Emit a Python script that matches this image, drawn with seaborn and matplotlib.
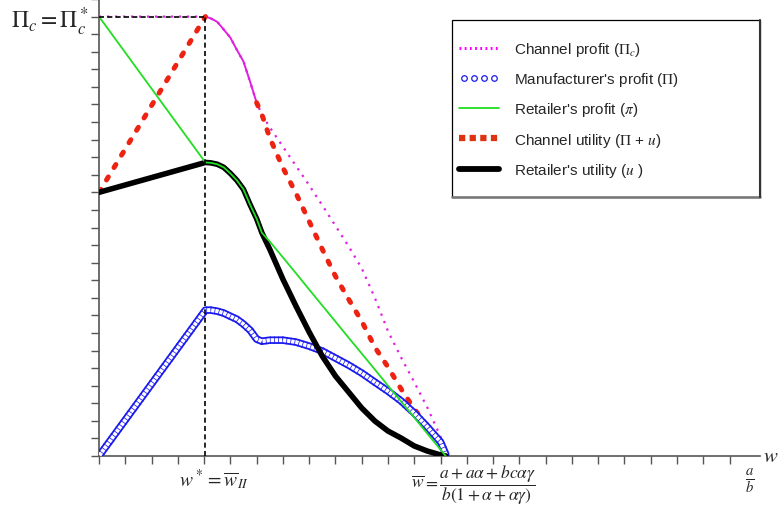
import matplotlib
matplotlib.use("Agg")
import matplotlib.pyplot as plt
import matplotlib.patheffects as pe
from matplotlib.lines import Line2D
from matplotlib.legend_handler import HandlerLine2D
from matplotlib.patches import Rectangle
import numpy as np
import pandas as pd
import seaborn as sns

# wholesale price grid (x tick units) and curve values (y tick units)
w = [0, 4.05, 4.25, 4.5, 4.75, 5, 5.25, 5.5, 5.75, 6.0, 6.2, 6.5, 7, 7.5, 8, 8.5, 9,
     9.5, 10, 10.5, 11, 11.5, 12, 12.5, 13, 13.2]
channel_profit = [25, 25, 24.9, 24.7, 24.26, 23.8, 23.1, 22.44, 21.3, 20.1, 19.43, 18.7,
                  17.6, 16.5, 15.4, 14.26, 13.1, 11.93, 10.68, 9.0, 7.1, 5.6, 4.2, 2.75,
                  1.1, 0.1]
manuf_profit = [0, 8.3, 8.3, 8.24, 8.13, 7.95, 7.78, 7.5, 7.16, 6.65, 6.53, 6.59, 6.59,
                6.48, 6.25, 5.97, 5.57, 5.17, 4.72, 4.2, 3.69, 3.13, 2.44, 1.65, 0.8, 0.1]
retailer_profit = [25, 16.7, 16.68, 16.6, 16.42, 16.08, 15.68, 15.17, 14.3, 13.5, 12.7,
                   12.2, 11.3, 10.39, 9.47, 8.56, 7.65, 6.73, 5.83, 4.92, 4.0, 3.1, 2.19,
                   1.27, 0.36, 0.0]
channel_utility = [15.0, 25, np.nan, np.nan, np.nan, np.nan, np.nan, np.nan, np.nan, 20.1,
                   19.43, 18.1, 16.4, 14.94, 13.35, 11.76, 10.23, 8.92, 7.67, 6.19, 5.06,
                   3.81, 2.67, 1.7, 0.63, 0.05]
retailer_utility = [15.0, 16.7, 16.68, 16.6, 16.42, 16.08, 15.68, 15.17, 14.3, 13.5, 12.7,
                    11.76, 10.06, 8.52, 7.05, 5.68, 4.55, 3.64, 2.73, 1.99, 1.42, 1.02,
                    0.57, 0.28, 0.06, 0.0]

w_star = 4.05
pi_star = 25

df = pd.DataFrame({"w": w, "Pc": channel_profit, "P": manuf_profit,
                   "pi": retailer_profit, "Pu": channel_utility, "u": retailer_utility})

sns.set_style("ticks")
plt.rcParams["font.family"] = ["Liberation Sans", "DejaVu Sans"]
plt.rcParams["mathtext.fontset"] = "stix"

fig = plt.figure(figsize=(7.78, 5.10), dpi=100)
ax = fig.add_axes([99 / 778, 53 / 510, 661 / 778, 457 / 510])

c_pink = "#e020e0"
c_blue = "#1a1aee"
c_green = "#22dd22"
c_red = "#ee2211"

# guide lines at w* and Pi_c*
ax.plot([0, w_star], [pi_star, pi_star], color="black", lw=1.2, ls=(0, (3, 2)), zorder=6)
ax.plot([w_star, w_star], [0, pi_star], color="black", lw=1.2, ls=(0, (3, 2)), zorder=6)

# channel profit: dotted, solid on the bend
sns.lineplot(data=df, x="w", y="Pc", ax=ax, color=c_pink, lw=1.6, sort=False,
             linestyle=(0, (1, 2.6)), zorder=3)
bend = df[(df.w >= w_star) & (df.w <= 6.0)]
sns.lineplot(data=bend, x="w", y="Pc", ax=ax, color=c_pink, lw=1.4, sort=False, zorder=3,
             solid_joinstyle="round")

# channel utility: red round dashes
valid = df["Pu"].notna()
for part in (df[valid & (df.w <= w_star)], df[valid & (df.w > w_star)]):
    sns.lineplot(data=part, x="w", y="Pu", ax=ax, color=c_red, lw=3.6, sort=False,
                 linestyle=(0, (0.7, 2.2)), dash_capstyle="round", zorder=3.2)

# manufacturer's profit: chain of hollow rings
sns.lineplot(data=df, x="w", y="P", ax=ax, color=c_blue, lw=5.4, sort=False, zorder=3.5,
             path_effects=[pe.Stroke(linewidth=5.4, foreground=c_blue),
                           pe.Stroke(linewidth=2.8, foreground="white")])
sns.lineplot(data=df, x="w", y="P", ax=ax, color=c_blue, lw=5.4, sort=False, zorder=3.6,
             linestyle=(0, (0.1, 0.45)))

# retailer's utility and profit
sns.lineplot(data=df, x="w", y="u", ax=ax, color="black", lw=4.0, sort=False, zorder=4,
             solid_joinstyle="round")
sns.lineplot(data=df, x="w", y="pi", ax=ax, color=c_green, lw=1.3, sort=False, zorder=5)

ax.set_xlim(0, 25.16)
ax.set_ylim(0, 26)
ax.set_xticks(range(0, 25))
ax.set_xticklabels([])
ax.set_yticks(range(0, 27))
ax.set_yticklabels([r"$\Pi_c = \Pi_c^*$" if t == pi_star else "" for t in range(0, 27)],
                   fontsize=17)
ax.tick_params(axis="both", direction="out", length=5.5, width=1.0, color="#555555", pad=2)
ax.set_xlabel("")
ax.set_ylabel("")
sns.despine(ax=ax)
for s in ("left", "bottom"):
    ax.spines[s].set_color("#555555")
    ax.spines[s].set_linewidth(1.2)

# x-axis annotations
xt = ax.get_xaxis_transform()
ax.text(4.38, -0.05, r"$w^* = \overline{w}_{II}$", transform=xt, ha="center", va="center",
        fontsize=14)
ax.text(14.27, -0.062, r"$\overline{w} = \dfrac{a + a\alpha + bc\alpha\gamma}{b(1+\alpha+\alpha\gamma)}$",
        transform=xt, ha="center", va="center", fontsize=12.5)
ax.text(24.78, -0.052, r"$\frac{a}{b}$", transform=xt, ha="center", va="center", fontsize=15)
ax.text(1.016, 0.0, r"$w$", transform=ax.transAxes, ha="center", va="center", fontsize=15)

# legend with its own frame
fig.add_artist(Rectangle((452 / 778, 1 - 198 / 510), 308 / 778, 177 / 510,
                         transform=fig.transFigure, fill=False, ec="black", lw=0.9))
fig.add_artist(Line2D([452 / 778, 760 / 778], [1 - 198 / 510] * 2, transform=fig.transFigure,
                      color="#777777", lw=1.8))
fig.add_artist(Line2D([760 / 778] * 2, [1 - 198 / 510, 1 - 21 / 510], transform=fig.transFigure,
                      color="#333333", lw=1.5))

handles = [
    Line2D([], [], color="#ff00ff", lw=2.2, ls=(0, (0.6, 1.1))),
    Line2D([], [], color=c_blue, ls="none", marker="o", markersize=4, mfc="none", mew=0.9),
    Line2D([], [], color=c_green, lw=1.3),
    Line2D([], [], color="#dd3311", lw=4.5, ls=(0, (1.0, 0.7))),
    Line2D([], [], color="black", lw=4.2, solid_capstyle="round"),
]
labels = [r"Channel profit ($\Pi_c$)", r"Manufacturer's profit ($\Pi$)",
          r"Retailer's profit ($\pi$)", r"Channel utility ($\Pi$ + $u$)",
          r"Retailer's utility ($u$ )"]
fig.legend(handles, labels, loc="upper left", bbox_to_anchor=(459 / 778, 1 - 41 / 510),
           frameon=False, fontsize=11, handlelength=2.6, handletextpad=1.0,
           labelspacing=0.8, borderpad=0, borderaxespad=0,
           handler_map={handles[1]: HandlerLine2D(numpoints=4)})

plt.savefig("out.png", dpi=100)
